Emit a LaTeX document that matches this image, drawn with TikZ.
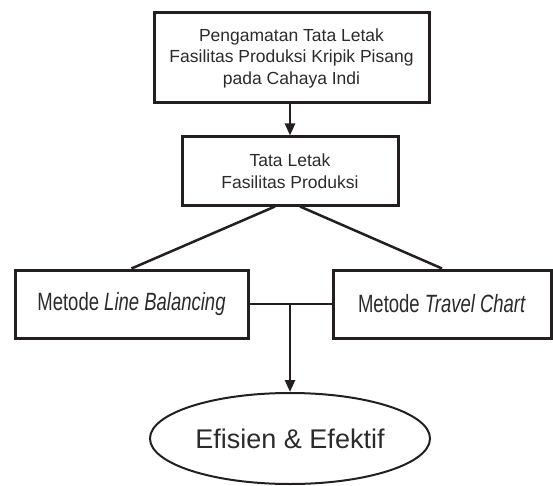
\documentclass[tikz,border=0pt]{standalone}
\usepackage{fontspec}
\setmainfont{Liberation Sans}
\newfontfamily\narrowsans[FakeStretch=0.74]{Liberation Sans}
\usetikzlibrary{arrows.meta,shapes.geometric}
\definecolor{garis}{HTML}{231F20}
\definecolor{teks}{HTML}{2B2B2B}
\newcommand{\tks}{\fontsize{17.5}{21.5}\selectfont}

\begin{document}
\begin{tikzpicture}[x=1pt,y=-1pt,
	kotak/.style={draw=garis,line width=3pt,rectangle,inner sep=0pt,align=center,text=teks,font=\tks},
	metode/.style={kotak,minimum height=68pt,font=\narrowsans\fontsize{25}{28}\selectfont},
	hubung/.style={draw=garis,line width=2.5pt},
	panah/.style={hubung,-{Triangle[length=12pt,width=10pt]}}]
\useasboundingbox (0,0) rectangle (553,486);
\node[kotak,minimum width=275pt,minimum height=90pt] (amat) at (291.5,58)
	{Pengamatan Tata Letak\\Fasilitas Produksi Kripik Pisang\\pada Cahaya Indi};
\node[kotak,minimum width=216pt,minimum height=68pt] (tata) at (290,171)
	{Tata Letak\\Fasilitas Produksi};
\node[metode,minimum width=233pt] (lb) at (131.5,304) {Metode \textit{Line Balancing}};
\node[metode,minimum width=218pt] (tc) at (442,304) {Metode \textit{Travel Chart}};
\node[draw=garis,line width=2pt,ellipse,minimum width=280pt,minimum height=91pt,inner sep=0pt,
	text=teks,font=\fontsize{27}{30}\selectfont] (hasil) at (290,438.5) {Efisien \& Efektif};
% hubungan antar kotak
\draw[panah] (amat.south -| tata.north) -- (tata.north);
\draw[hubung] ([xshift=-15pt]tata.south) -- (lb.north);
\draw[hubung] ([xshift=10pt]tata.south) -- (tc.north);
\draw[hubung] (lb.east) -- (tc.west);
\coordinate (temu) at (lb.east -| hasil.north);
\draw[panah] (temu) -- (hasil.north);
\end{tikzpicture}
\end{document}
